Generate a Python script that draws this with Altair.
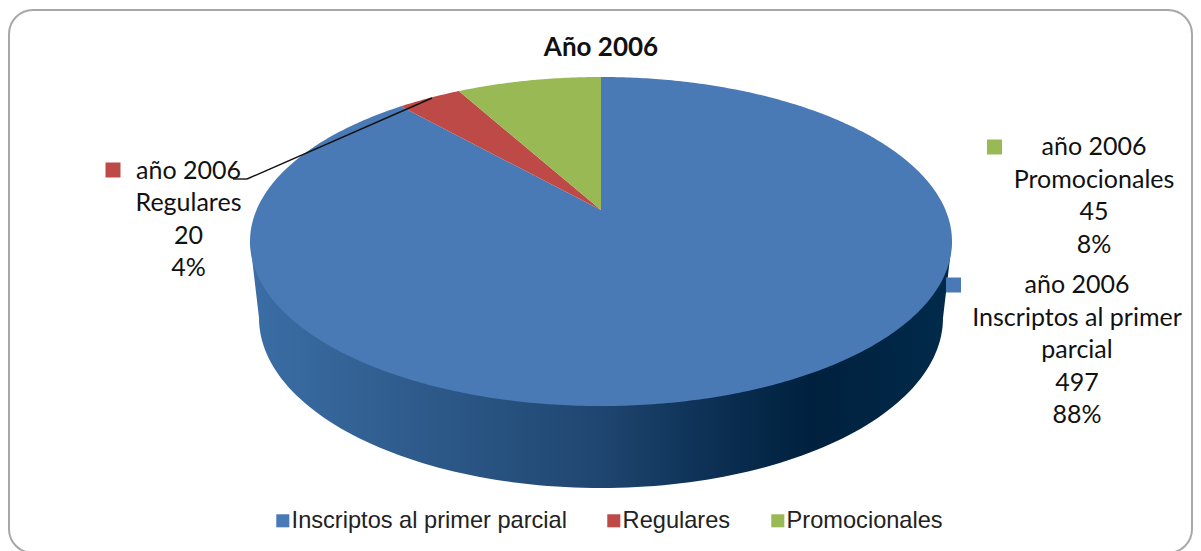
import math
import altair as alt

# ---- data ----
categories = ["Inscriptos al primer parcial", "Regulares", "Promocionales"]
counts = [497, 20, 45]
series_name = "año 2006"
chart_title = "Año 2006"
colors = ["#4a7ab5", "#bd4a47", "#98b954"]

# ---- drawing constants ----
W, H = 1185, 543
OX, OY = 8, 8              # page margin
APEX = (601, 210)          # image position of the pie centre
PERSP, HALF_W, HALF_H = 0.1915, 344.5, 158.5
LABEL_FONT = "Lato"


def project(theta):
    """Tilted circle: clockwise angle from 12 o'clock -> planar offset from the apex."""
    u, v = math.sin(theta), math.cos(theta)
    k = 1 + PERSP * v
    return [HALF_W * u / k, HALF_H * v / k]


def feature(name, ring):
    return {"type": "Feature", "properties": {"name": name},
            "geometry": {"type": "Polygon", "coordinates": [ring + [ring[0]]]}}


total = sum(counts)
features, start = [], 0.0
for name, count in zip(categories, counts):
    sweep = 2 * math.pi * count / total
    n = max(3, int(count))
    arc = [project(start + sweep * i / n) for i in range(n + 1)]
    features.append(feature(name, [[0, 0]] + arc))
    start += sweep

# Side wall: lower half of the base outline, closed across the top disc
base_cy, base_rx, base_ry = -108.0, 342.0, 170.0
wall = [[-351.0, -31.0]]
wall += [[-base_rx * math.cos(math.pi * i / 120),
          base_cy - base_ry * math.sin(math.pi * i / 120)] for i in range(121)]
wall += [[351.0, -31.0]]
wall_data = alt.Data(values=[feature("wall", wall)])

projection = dict(type="identity", scale=1, reflectY=True,
                  translate=[APEX[0] - OX, APEX[1] - OY])

frame = alt.Chart(alt.Data(values=[{"a": 1}])).mark_rect(
    cornerRadius=24, fill="white", stroke="#a8a8a8", strokeWidth=2
).encode(x=alt.value(1), x2=alt.value(1184), y=alt.value(2), y2=alt.value(545))

wall_layer = alt.Chart(wall_data).mark_geoshape(
    strokeWidth=0,
    fill=alt.Gradient(
        gradient="linear", x1=0, x2=1, y1=0, y2=0,
        stops=[
            alt.GradientStop(offset=0.0, color="#3b6ea6"),
            alt.GradientStop(offset=0.22, color="#2f5c8d"),
            alt.GradientStop(offset=0.5, color="#1f4670"),
            alt.GradientStop(offset=0.68, color="#0a2d50"),
            alt.GradientStop(offset=0.8, color="#00213e"),
            alt.GradientStop(offset=1.0, color="#012a4a"),
        ],
    ),
).project(**projection)

pie_layer = alt.Chart(alt.Data(values=features)).mark_geoshape(strokeWidth=0).encode(
    color=alt.Color(
        "properties.name:N",
        scale=alt.Scale(domain=categories, range=colors),
        sort=categories,
        legend=alt.Legend(
            title=None, orient="none", direction="horizontal",
            legendX=263, legendY=501, symbolType="square", symbolSize=170,
            symbolStrokeWidth=0, labelFont="Liberation Sans", labelFontSize=23.6,
            labelColor="#222222", labelOffset={"expr": "-3"}, columnPadding=35, gridAlign="none",
            labelLimit=400,
        ),
    )
).project(**projection)


def px(x):
    return alt.value(x - OX)


def py(y):
    return alt.value(y - OY)


def label(i, cx, top, key_x, key_y):
    pct = round(100 * counts[i] / total)
    name_lines = ["Inscriptos al primer", "parcial"] if i == 0 else [categories[i]]
    lines = [series_name] + name_lines + [str(counts[i]), f"{pct}%"]
    src = alt.Data(values=[{"t": "\n".join(lines), "n": categories[i]}])
    text = alt.Chart(src).mark_text(
        font=LABEL_FONT, fontSize=25, color="#111111", align="center",
        baseline="top", lineBreak="\n", lineHeight=32.5,
    ).encode(text="t:N", x=px(cx), y=py(top))
    key = alt.Chart(src).mark_square(size=225, opacity=1, fill=colors[i], strokeWidth=0).encode(
        x=px(key_x), y=py(key_y))
    return [text, key]


def rule(x1, y1, x2, y2):
    return alt.Chart(alt.Data(values=[{"a": 1}])).mark_rule(color="#111111", strokeWidth=1.4).encode(
        x=px(x1), x2=px(x2), y=py(y1), y2=py(y2))


title_layer = alt.Chart(alt.Data(values=[{"t": chart_title}])).mark_text(
    font=LABEL_FONT, fontSize=26, fontWeight="bold", color="#111111",
    align="center", baseline="alphabetic",
).encode(text="t:N", x=px(601), y=py(56))

layers = [frame, wall_layer, pie_layer, title_layer]
layers += label(0, 1077, 273, 953.5, 285)
layers += label(1, 188.5, 158.5, 113, 170)
layers += label(2, 1094, 135, 994.5, 147)
layers += [rule(233, 179, 247, 179), rule(247, 179, 432, 98)]

chart = alt.layer(*layers).properties(
    width=W, height=H,
    padding=0,
    autosize=alt.AutoSizeParams(type="none"),
    background="white",
).configure_view(stroke=None)

chart.save("out.html", embed_options={"renderer": "svg", "actions": False})
